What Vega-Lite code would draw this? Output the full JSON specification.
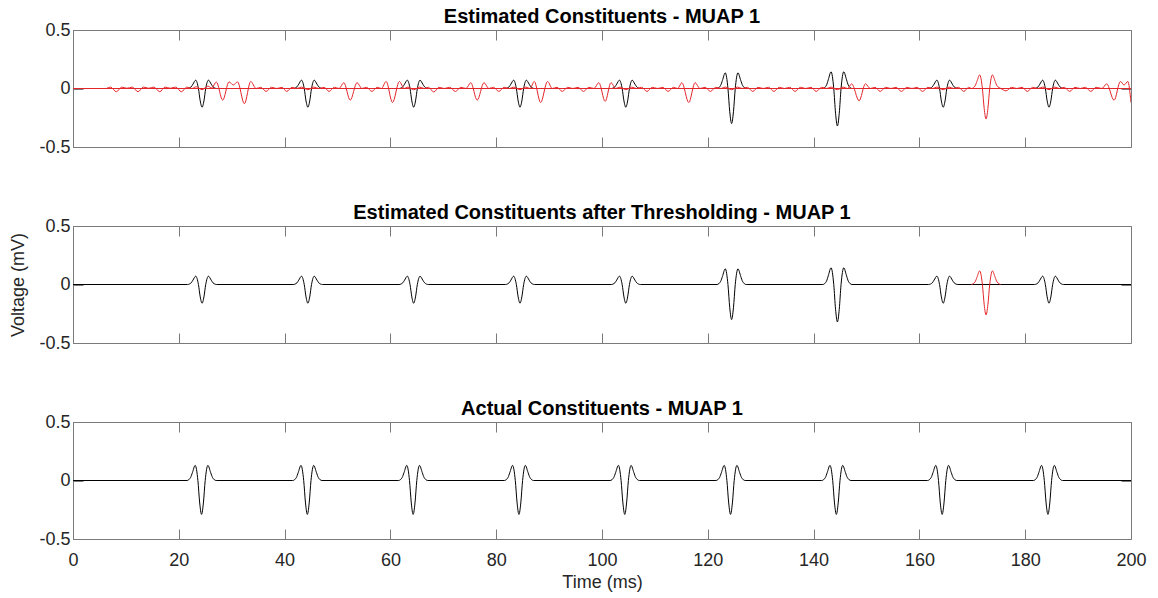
{
"$schema":"https://vega.github.io/schema/vega-lite/v6.json",
"padding":{"left":9,"top":6,"right":0,"bottom":0},
"background":"white",
"config":{
 "view":{"stroke":"#7a7a7a","strokeWidth":1},
 "font":"Liberation Sans",
 "axis":{"domain":false,"grid":false,"tickColor":"#7a7a7a","tickSize":-10,"tickWidth":1,"labelFlush":false,"labelFont":"Liberation Sans","labelFontSize":18,"labelColor":"#262626","titleFont":"Liberation Sans","titleFontSize":18,"titleFontWeight":"normal","titleColor":"#262626"},
 "axisX":{"labelPadding":22,"titlePadding":4},
 "axisY":{"labelPadding":13,"titlePadding":11},
 "title":{"font":"Liberation Sans","fontSize":20,"fontWeight":"bold","color":"#000000","offset":-6,"anchor":"middle","frame":"group"}
},
"datasets":{
"est":[{"t":0,"v":0},
{"t":21.64,"v":0},{"t":22.33,"v":0.014},{"t":22.67,"v":0.037},{"t":23.2,"v":0.071},{"t":23.71,"v":0},{"t":24.05,"v":-0.106},{"t":24.4,"v":-0.16},{"t":24.75,"v":-0.106},{"t":25.09,"v":0},{"t":25.6,"v":0.071},{"t":26.13,"v":0.037},{"t":26.47,"v":0.014},{"t":27.16,"v":0},
{"t":41.64,"v":0},{"t":42.33,"v":0.014},{"t":42.67,"v":0.037},{"t":43.2,"v":0.071},{"t":43.71,"v":0},{"t":44.05,"v":-0.106},{"t":44.4,"v":-0.16},{"t":44.75,"v":-0.106},{"t":45.09,"v":0},{"t":45.6,"v":0.071},{"t":46.13,"v":0.037},{"t":46.47,"v":0.014},{"t":47.16,"v":0},
{"t":61.64,"v":0},{"t":62.33,"v":0.014},{"t":62.67,"v":0.037},{"t":63.2,"v":0.071},{"t":63.71,"v":0},{"t":64.05,"v":-0.106},{"t":64.4,"v":-0.16},{"t":64.75,"v":-0.106},{"t":65.09,"v":0},{"t":65.6,"v":0.071},{"t":66.13,"v":0.037},{"t":66.47,"v":0.014},{"t":67.16,"v":0},
{"t":81.74,"v":0},{"t":82.43,"v":0.014},{"t":82.77,"v":0.037},{"t":83.3,"v":0.071},{"t":83.81,"v":0},{"t":84.15,"v":-0.106},{"t":84.5,"v":-0.16},{"t":84.85,"v":-0.106},{"t":85.19,"v":0},{"t":85.7,"v":0.071},{"t":86.23,"v":0.037},{"t":86.57,"v":0.014},{"t":87.26,"v":0},
{"t":101.74,"v":0},{"t":102.43,"v":0.014},{"t":102.77,"v":0.037},{"t":103.3,"v":0.071},{"t":103.81,"v":0},{"t":104.15,"v":-0.106},{"t":104.5,"v":-0.16},{"t":104.85,"v":-0.106},{"t":105.19,"v":0},{"t":105.7,"v":0.071},{"t":106.23,"v":0.037},{"t":106.57,"v":0.014},{"t":107.26,"v":0},
{"t":121.74,"v":0},{"t":122.43,"v":0.027},{"t":122.77,"v":0.069},{"t":123.3,"v":0.134},{"t":123.81,"v":0},{"t":124.15,"v":-0.199},{"t":124.5,"v":-0.3},{"t":124.85,"v":-0.199},{"t":125.19,"v":0},{"t":125.7,"v":0.134},{"t":126.23,"v":0.069},{"t":126.57,"v":0.027},{"t":127.26,"v":0},
{"t":141.74,"v":0},{"t":142.43,"v":0.028},{"t":142.77,"v":0.074},{"t":143.3,"v":0.143},{"t":143.81,"v":0},{"t":144.15,"v":-0.212},{"t":144.5,"v":-0.32},{"t":144.85,"v":-0.212},{"t":145.19,"v":0},{"t":145.7,"v":0.143},{"t":146.23,"v":0.074},{"t":146.57,"v":0.028},{"t":147.26,"v":0},
{"t":161.74,"v":0},{"t":162.43,"v":0.014},{"t":162.77,"v":0.037},{"t":163.3,"v":0.071},{"t":163.81,"v":0},{"t":164.15,"v":-0.106},{"t":164.5,"v":-0.16},{"t":164.85,"v":-0.106},{"t":165.19,"v":0},{"t":165.7,"v":0.071},{"t":166.23,"v":0.037},{"t":166.57,"v":0.014},{"t":167.26,"v":0},
{"t":181.74,"v":0},{"t":182.43,"v":0.014},{"t":182.77,"v":0.037},{"t":183.3,"v":0.071},{"t":183.81,"v":0},{"t":184.15,"v":-0.106},{"t":184.5,"v":-0.16},{"t":184.85,"v":-0.106},{"t":185.19,"v":0},{"t":185.7,"v":0.071},{"t":186.23,"v":0.037},{"t":186.57,"v":0.014},{"t":187.26,"v":0},
{"t":200,"v":0}],
"act":[{"t":0,"v":0},
{"t":21.54,"v":0},{"t":22.23,"v":0.026},{"t":22.57,"v":0.067},{"t":23.1,"v":0.129},{"t":23.61,"v":0},{"t":23.95,"v":-0.192},{"t":24.3,"v":-0.29},{"t":24.65,"v":-0.192},{"t":24.99,"v":0},{"t":25.5,"v":0.129},{"t":26.03,"v":0.067},{"t":26.37,"v":0.026},{"t":27.06,"v":0},
{"t":41.54,"v":0},{"t":42.23,"v":0.026},{"t":42.57,"v":0.067},{"t":43.1,"v":0.129},{"t":43.61,"v":0},{"t":43.95,"v":-0.192},{"t":44.3,"v":-0.29},{"t":44.65,"v":-0.192},{"t":44.99,"v":0},{"t":45.5,"v":0.129},{"t":46.03,"v":0.067},{"t":46.37,"v":0.026},{"t":47.06,"v":0},
{"t":61.54,"v":0},{"t":62.23,"v":0.026},{"t":62.57,"v":0.067},{"t":63.1,"v":0.129},{"t":63.61,"v":0},{"t":63.95,"v":-0.192},{"t":64.3,"v":-0.29},{"t":64.65,"v":-0.192},{"t":64.99,"v":0},{"t":65.5,"v":0.129},{"t":66.03,"v":0.067},{"t":66.37,"v":0.026},{"t":67.06,"v":0},
{"t":81.54,"v":0},{"t":82.23,"v":0.026},{"t":82.57,"v":0.067},{"t":83.1,"v":0.129},{"t":83.61,"v":0},{"t":83.95,"v":-0.192},{"t":84.3,"v":-0.29},{"t":84.65,"v":-0.192},{"t":84.99,"v":0},{"t":85.5,"v":0.129},{"t":86.03,"v":0.067},{"t":86.37,"v":0.026},{"t":87.06,"v":0},
{"t":101.54,"v":0},{"t":102.23,"v":0.026},{"t":102.57,"v":0.067},{"t":103.1,"v":0.129},{"t":103.61,"v":0},{"t":103.95,"v":-0.192},{"t":104.3,"v":-0.29},{"t":104.65,"v":-0.192},{"t":104.99,"v":0},{"t":105.5,"v":0.129},{"t":106.03,"v":0.067},{"t":106.37,"v":0.026},{"t":107.06,"v":0},
{"t":121.54,"v":0},{"t":122.23,"v":0.026},{"t":122.57,"v":0.067},{"t":123.1,"v":0.129},{"t":123.61,"v":0},{"t":123.95,"v":-0.192},{"t":124.3,"v":-0.29},{"t":124.65,"v":-0.192},{"t":124.99,"v":0},{"t":125.5,"v":0.129},{"t":126.03,"v":0.067},{"t":126.37,"v":0.026},{"t":127.06,"v":0},
{"t":141.54,"v":0},{"t":142.23,"v":0.026},{"t":142.57,"v":0.067},{"t":143.1,"v":0.129},{"t":143.61,"v":0},{"t":143.95,"v":-0.192},{"t":144.3,"v":-0.29},{"t":144.65,"v":-0.192},{"t":144.99,"v":0},{"t":145.5,"v":0.129},{"t":146.03,"v":0.067},{"t":146.37,"v":0.026},{"t":147.06,"v":0},
{"t":161.54,"v":0},{"t":162.23,"v":0.026},{"t":162.57,"v":0.067},{"t":163.1,"v":0.129},{"t":163.61,"v":0},{"t":163.95,"v":-0.192},{"t":164.3,"v":-0.29},{"t":164.65,"v":-0.192},{"t":164.99,"v":0},{"t":165.5,"v":0.129},{"t":166.03,"v":0.067},{"t":166.37,"v":0.026},{"t":167.06,"v":0},
{"t":181.54,"v":0},{"t":182.23,"v":0.026},{"t":182.57,"v":0.067},{"t":183.1,"v":0.129},{"t":183.61,"v":0},{"t":183.95,"v":-0.192},{"t":184.3,"v":-0.29},{"t":184.65,"v":-0.192},{"t":184.99,"v":0},{"t":185.5,"v":0.129},{"t":186.03,"v":0.067},{"t":186.37,"v":0.026},{"t":187.06,"v":0},
{"t":200,"v":0}],
"rsp":[{"t":169.84,"v":0},{"t":170.53,"v":0.023},{"t":170.87,"v":0.06},{"t":171.4,"v":0.116},{"t":171.91,"v":0},{"t":172.25,"v":-0.172},{"t":172.6,"v":-0.26},{"t":172.95,"v":-0.172},{"t":173.29,"v":0},{"t":173.8,"v":0.116},{"t":174.33,"v":0.06},{"t":174.67,"v":0.023},{"t":175.36,"v":0}],
"zero":[{"t":0,"v":0},{"t":200,"v":0}],
"noise":[{"t":6.3,"v":0},{"t":7.1,"v":0.012},{"t":8.2,"v":-0.028},{"t":9.2,"v":0.012},{"t":10.2,"v":0.002},{"t":11.2,"v":0.012},{"t":12.3,"v":-0.028},{"t":13.3,"v":0.012},{"t":14.3,"v":0.002},{"t":15.3,"v":0.012},{"t":16.4,"v":-0.028},{"t":17.4,"v":0.012},{"t":18.4,"v":0.002},{"t":19.4,"v":0.012},{"t":20.5,"v":-0.028},{"t":21.5,"v":0.012},{"t":22.5,"v":0},{"t":23.3,"v":0.015},{"t":24.4,"v":-0.01},{"t":25.5,"v":0.02},{"t":26.2,"v":0.005},{"t":27.1,"v":0.055},{"t":28.3,"v":-0.1},{"t":29.5,"v":0.057},{"t":30.3,"v":0.03},{"t":31.1,"v":0.057},{"t":32.4,"v":-0.13},{"t":33.6,"v":0.06},{"t":34.6,"v":0},{"t":35.5,"v":0.01},{"t":36.5,"v":-0.025},{"t":37.5,"v":0.01},{"t":38.5,"v":0},{"t":39.5,"v":0.01},{"t":40.4,"v":-0.025},{"t":41.4,"v":0.01},{"t":42.3,"v":0},{"t":43.2,"v":0.012},{"t":44.4,"v":-0.01},{"t":45.5,"v":0.012},{"t":46.5,"v":0},{"t":47.5,"v":0.01},{"t":48.4,"v":-0.025},{"t":49.4,"v":0.01},{"t":50.3,"v":0},{"t":51.2,"v":0.05},{"t":52.4,"v":-0.1},{"t":53.7,"v":0.05},{"t":54.6,"v":0},{"t":55.5,"v":0.01},{"t":56.5,"v":-0.025},{"t":57.5,"v":0.01},{"t":58.3,"v":0},{"t":59.2,"v":0.06},{"t":60.4,"v":-0.12},{"t":61.7,"v":0.06},{"t":62.6,"v":0},{"t":63.3,"v":0.012},{"t":64.4,"v":-0.01},{"t":65.5,"v":0.012},{"t":66.4,"v":0},{"t":67.2,"v":0.01},{"t":68.2,"v":-0.03},{"t":69.2,"v":0.01},{"t":70.2,"v":0},{"t":71.2,"v":0.01},{"t":72.3,"v":-0.025},{"t":73.3,"v":0.01},{"t":74.3,"v":0},{"t":75.2,"v":0.05},{"t":76.4,"v":-0.1},{"t":77.7,"v":0.05},{"t":78.6,"v":0},{"t":79.5,"v":0.01},{"t":80.5,"v":-0.025},{"t":81.5,"v":0.01},{"t":82.5,"v":0},{"t":83.3,"v":0.012},{"t":84.5,"v":-0.01},{"t":85.6,"v":0.012},{"t":86.4,"v":0},{"t":87.2,"v":0.06},{"t":88.4,"v":-0.12},{"t":89.7,"v":0.06},{"t":90.6,"v":0},{"t":91.5,"v":0.01},{"t":92.5,"v":-0.025},{"t":93.5,"v":0.01},{"t":94.5,"v":0},{"t":95.5,"v":0.01},{"t":96.5,"v":-0.025},{"t":97.5,"v":0.01},{"t":98.5,"v":0},{"t":99.4,"v":0.05},{"t":100.6,"v":-0.11},{"t":101.7,"v":0.05},{"t":102.6,"v":0},{"t":103.4,"v":0.012},{"t":104.5,"v":-0.01},{"t":105.6,"v":0.012},{"t":106.5,"v":0},{"t":107.5,"v":0.01},{"t":108.5,"v":-0.025},{"t":109.5,"v":0.01},{"t":110.5,"v":0},{"t":111.5,"v":0.01},{"t":112.5,"v":-0.025},{"t":113.5,"v":0.01},{"t":114.3,"v":0},{"t":115.1,"v":0.05},{"t":116.4,"v":-0.12},{"t":117.6,"v":0.05},{"t":118.5,"v":0},{"t":119.5,"v":0.01},{"t":120.5,"v":-0.025},{"t":121.5,"v":0.01},{"t":122.5,"v":0},{"t":123.3,"v":0.012},{"t":124.5,"v":-0.01},{"t":125.6,"v":0.012},{"t":126.5,"v":0},{"t":127.5,"v":0.01},{"t":128.5,"v":-0.025},{"t":129.5,"v":0.01},{"t":130.5,"v":0},{"t":131.5,"v":0.01},{"t":132.5,"v":-0.025},{"t":133.5,"v":0.01},{"t":134.5,"v":0},{"t":135.5,"v":0.01},{"t":136.5,"v":-0.025},{"t":137.5,"v":0.01},{"t":138.5,"v":0},{"t":139.5,"v":0.01},{"t":140.5,"v":-0.025},{"t":141.5,"v":0.01},{"t":142.5,"v":0},{"t":143.3,"v":0.012},{"t":144.5,"v":-0.01},{"t":145.6,"v":0.012},{"t":146.4,"v":0},{"t":147.2,"v":0.04},{"t":148.6,"v":-0.105},{"t":149.8,"v":0.04},{"t":150.7,"v":0},{"t":151.6,"v":0.01},{"t":152.6,"v":-0.025},{"t":153.6,"v":0.01},{"t":154.6,"v":0},{"t":155.6,"v":0.01},{"t":156.6,"v":-0.025},{"t":157.6,"v":0.01},{"t":158.6,"v":0},{"t":159.6,"v":0.01},{"t":160.6,"v":-0.025},{"t":161.6,"v":0.01},{"t":162.5,"v":0},{"t":163.3,"v":0.012},{"t":164.5,"v":-0.01},{"t":165.6,"v":0.012},{"t":166.5,"v":0},{"t":167.4,"v":0.01},{"t":168.4,"v":-0.025},{"t":169.3,"v":0.01},{"t":169.84,"v":0},{"t":170.53,"v":0.023},{"t":170.87,"v":0.06},{"t":171.4,"v":0.116},{"t":171.91,"v":0},{"t":172.25,"v":-0.172},{"t":172.6,"v":-0.26},{"t":172.95,"v":-0.172},{"t":173.29,"v":0},{"t":173.8,"v":0.116},{"t":174.33,"v":0.06},{"t":174.67,"v":0.023},{"t":175.4,"v":0},{"t":176.4,"v":-0.02},{"t":177.4,"v":0.01},{"t":178.4,"v":0},{"t":179.4,"v":0.01},{"t":180.4,"v":-0.025},{"t":181.4,"v":0.01},{"t":182.4,"v":0},{"t":183.3,"v":0.012},{"t":184.5,"v":-0.01},{"t":185.6,"v":0.012},{"t":186.5,"v":0},{"t":187.4,"v":0.01},{"t":188.4,"v":-0.025},{"t":189.4,"v":0.01},{"t":190.4,"v":0},{"t":191.4,"v":0.01},{"t":192.4,"v":-0.025},{"t":193.4,"v":0.01},{"t":194.5,"v":0},{"t":195.4,"v":0.04},{"t":196.8,"v":-0.1},{"t":198.0,"v":0.06},{"t":198.7,"v":0.03},{"t":199.4,"v":0.06},{"t":200,"v":-0.12}]
},
"spacing":79,
"bounds":"flush",
"vconcat":[
{"width":1058,"height":117,
 "title":{"text":"Estimated Constituents - MUAP 1"},
 "resolve":{"axis":{"x":"independent","y":"independent"}},
 "layer":[
  {"data":{"name":"est"},"mark":{"type":"line","interpolate":"monotone","color":"#000000","strokeWidth":1,"clip":true},
   "encoding":{"x":{"field":"t","type":"quantitative","scale":{"domain":[0,200],"nice":false,"zero":false},"axis":{"orient":"bottom","values":[0,20,40,60,80,100,120,140,160,180,200],"labels":false,"title":null}},
    "y":{"field":"v","type":"quantitative","scale":{"domain":[-0.5,0.5],"nice":false,"zero":false},"axis":{"orient":"left","values":[-0.5,0,0.5],"title":null,"labelExpr":"datum.value < 0 ? '-' + toString(-datum.value) : toString(datum.value)"}}}},
  {"data":{"name":"zero"},"mark":{"type":"line","color":"#e3262a","strokeWidth":1,"clip":true},
   "encoding":{"x":{"field":"t","type":"quantitative","axis":{"orient":"top","values":[0,20,40,60,80,100,120,140,160,180,200],"labels":false,"title":null}},
    "y":{"field":"v","type":"quantitative","axis":{"orient":"right","values":[-0.5,0,0.5],"labels":false,"title":null}}}},
  {"data":{"name":"noise"},"mark":{"type":"line","interpolate":"monotone","color":"#e3262a","strokeWidth":1,"clip":true},
   "encoding":{"x":{"field":"t","type":"quantitative","axis":null},"y":{"field":"v","type":"quantitative","axis":null}}}
 ]},
{"width":1058,"height":117,
 "title":{"text":"Estimated Constituents after Thresholding - MUAP 1"},
 "resolve":{"axis":{"x":"independent","y":"independent"}},
 "layer":[
  {"data":{"name":"est"},"mark":{"type":"line","interpolate":"monotone","color":"#000000","strokeWidth":1,"clip":true},
   "encoding":{"x":{"field":"t","type":"quantitative","scale":{"domain":[0,200],"nice":false,"zero":false},"axis":{"orient":"bottom","values":[0,20,40,60,80,100,120,140,160,180,200],"labels":false,"title":null}},
    "y":{"field":"v","type":"quantitative","scale":{"domain":[-0.5,0.5],"nice":false,"zero":false},"axis":{"orient":"left","values":[-0.5,0,0.5],"title":"Voltage (mV)","labelExpr":"datum.value < 0 ? '-' + toString(-datum.value) : toString(datum.value)"}}}},
  {"data":{"name":"rsp"},"mark":{"type":"line","interpolate":"monotone","color":"#e3262a","strokeWidth":1,"clip":true},
   "encoding":{"x":{"field":"t","type":"quantitative","axis":{"orient":"top","values":[0,20,40,60,80,100,120,140,160,180,200],"labels":false,"title":null}},
    "y":{"field":"v","type":"quantitative","axis":{"orient":"right","values":[-0.5,0,0.5],"labels":false,"title":null}}}}
 ]},
{"width":1058,"height":117,
 "title":{"text":"Actual Constituents - MUAP 1"},
 "resolve":{"axis":{"x":"independent","y":"independent"}},
 "layer":[
  {"data":{"name":"act"},"mark":{"type":"line","interpolate":"monotone","color":"#000000","strokeWidth":1,"clip":true},
   "encoding":{"x":{"field":"t","type":"quantitative","scale":{"domain":[0,200],"nice":false,"zero":false},"axis":{"orient":"bottom","values":[0,20,40,60,80,100,120,140,160,180,200],"title":"Time (ms)"}},
    "y":{"field":"v","type":"quantitative","scale":{"domain":[-0.5,0.5],"nice":false,"zero":false},"axis":{"orient":"left","values":[-0.5,0,0.5],"title":null,"labelExpr":"datum.value < 0 ? '-' + toString(-datum.value) : toString(datum.value)"}}}},
  {"data":{"name":"act"},"mark":{"type":"line","strokeOpacity":0,"clip":true},
   "encoding":{"x":{"field":"t","type":"quantitative","axis":{"orient":"top","values":[0,20,40,60,80,100,120,140,160,180,200],"labels":false,"title":null}},
    "y":{"field":"v","type":"quantitative","axis":{"orient":"right","values":[-0.5,0,0.5],"labels":false,"title":null}}}}
 ]}
]
}
